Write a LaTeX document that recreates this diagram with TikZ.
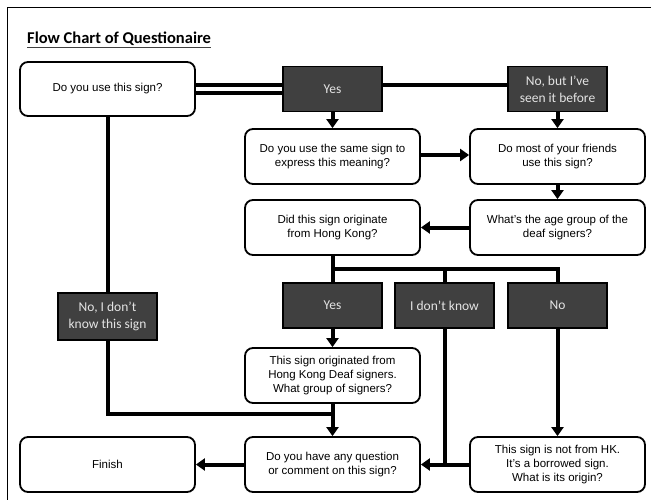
\documentclass[tikz,border=0pt]{standalone}
\usepackage{fontspec}
\setmainfont{Liberation Sans}
\newfontfamily\calfont{Carlito}
\usetikzlibrary{arrows.meta}
\definecolor{darkfill}{HTML}{404040}
\definecolor{lighttext}{HTML}{E4E4E4}
\tikzset{
  qbox/.style={draw, line width=1.8pt, rounded corners=8pt, fill=white,
    minimum width=175pt, minimum height=55pt, align=center, inner sep=2pt,
    font=\fontsize{11.5}{14}\selectfont},
  dbox/.style={draw, line width=1.8pt, fill=darkfill, text=lighttext,
    minimum width=99pt, minimum height=45pt, align=center, inner sep=2pt,
    font=\calfont\fontsize{13.5}{17}\selectfont},
  conn/.style={line width=4pt},
  arr/.style={line width=4pt, -{Triangle[length=9pt,width=12pt]}},
}
\begin{document}
\begin{tikzpicture}[x=1pt,y=-1pt]
\useasboundingbox (0,0) rectangle (651,499);
% frame
\draw[line width=1.5pt] (7.5,505) -- (7.5,7.5) -- (660,7.5);
% title
\node[anchor=base west, inner sep=0pt, font=\calfont\bfseries\fontsize{16.5}{20}\selectfont] (title) at (27,43) {Flow Chart of Questionaire};
\draw[line width=1pt, black!75] ([yshift=-4pt]title.base west) -- ([yshift=-4pt]title.base east);

% nodes
\node[qbox, minimum height=54pt] (dous) at (107.5,89) {Do you use this sign?};
\node[dbox] (yes1) at (332.5,89) {Yes};
\node[dbox] (nobut) at (557.5,89) {No, but I’ve\\seen it before};
\node[qbox] (same) at (332.5,156.5) {Do you use the same sign to\\express this meaning?};
\node[qbox] (friends) at (557.5,156.5) {Do most of your friends\\use this sign?};
\node[qbox] (age) at (557.5,227.5) {What’s the age group of the\\deaf signers?};
\node[qbox] (hk) at (332.5,227.5) {Did this sign originate\\from Hong Kong?};
\node[dbox] (yes2) at (332.5,305.5) {Yes};
\node[dbox] (idk) at (444.5,305.5) {I don’t know};
\node[dbox] (no) at (557.5,305.5) {No};
\node[dbox, minimum height=47pt] (nodk) at (107.5,316.5) {No, I don’t\\know this sign};
\node[qbox] (origin) at (332.5,375.5) {This sign originated from\\Hong Kong Deaf signers.\\What group of signers?};
\node[qbox] (question) at (332.5,464.5) {Do you have any question\\or comment on this sign?};
\node[qbox] (finish) at (107.5,464.5) {Finish};
\node[qbox] (nothk) at (557.5,464.5) {This sign is not from HK.\\It’s a borrowed sign.\\What is its origin?};

\coordinate (j1) at (332.5,269);
\coordinate (j3) at (557.5,269);
\coordinate (j4) at (332.5,414);

% connectors
\draw[conn] ([yshift=4pt]dous.east) -- ([yshift=4pt]yes1.west);
\draw[conn] ([yshift=-4pt]dous.east) -- ([yshift=-4pt]yes1.west);
\draw[conn] ([yshift=4pt]yes1.east) -- ([yshift=4pt]nobut.west);
\draw[arr] (yes1.south) -- (same.north);
\draw[arr] (nobut.south) -- (friends.north);
\draw[arr] ([yshift=1.5pt]same.east) -- ([yshift=1.5pt]friends.west);
\draw[arr] (friends.south) -- (age.north);
\draw[arr] (age.west) -- (hk.east);
\draw[conn] (hk.south) -- (yes2.north);
\draw[conn, line join=miter] (j1) -- (j3) -- (no.north);
\draw[conn] (idk.north |- j1) -- (idk.north);
\draw[arr] (yes2.south) -- (origin.north);
\draw[conn] (dous.south) -- (nodk.north);
\draw[conn, line join=miter] (nodk.south) |- (j4);
\draw[arr] (origin.south) -- (question.north);
\draw[arr] (no.south) -- (nothk.north);
\draw[arr] (nothk.west) -- (question.east);
\draw[conn] (idk.south) -- (idk.south |- question.east);
\draw[arr] (question.west) -- (finish.east);
\end{tikzpicture}
\end{document}
